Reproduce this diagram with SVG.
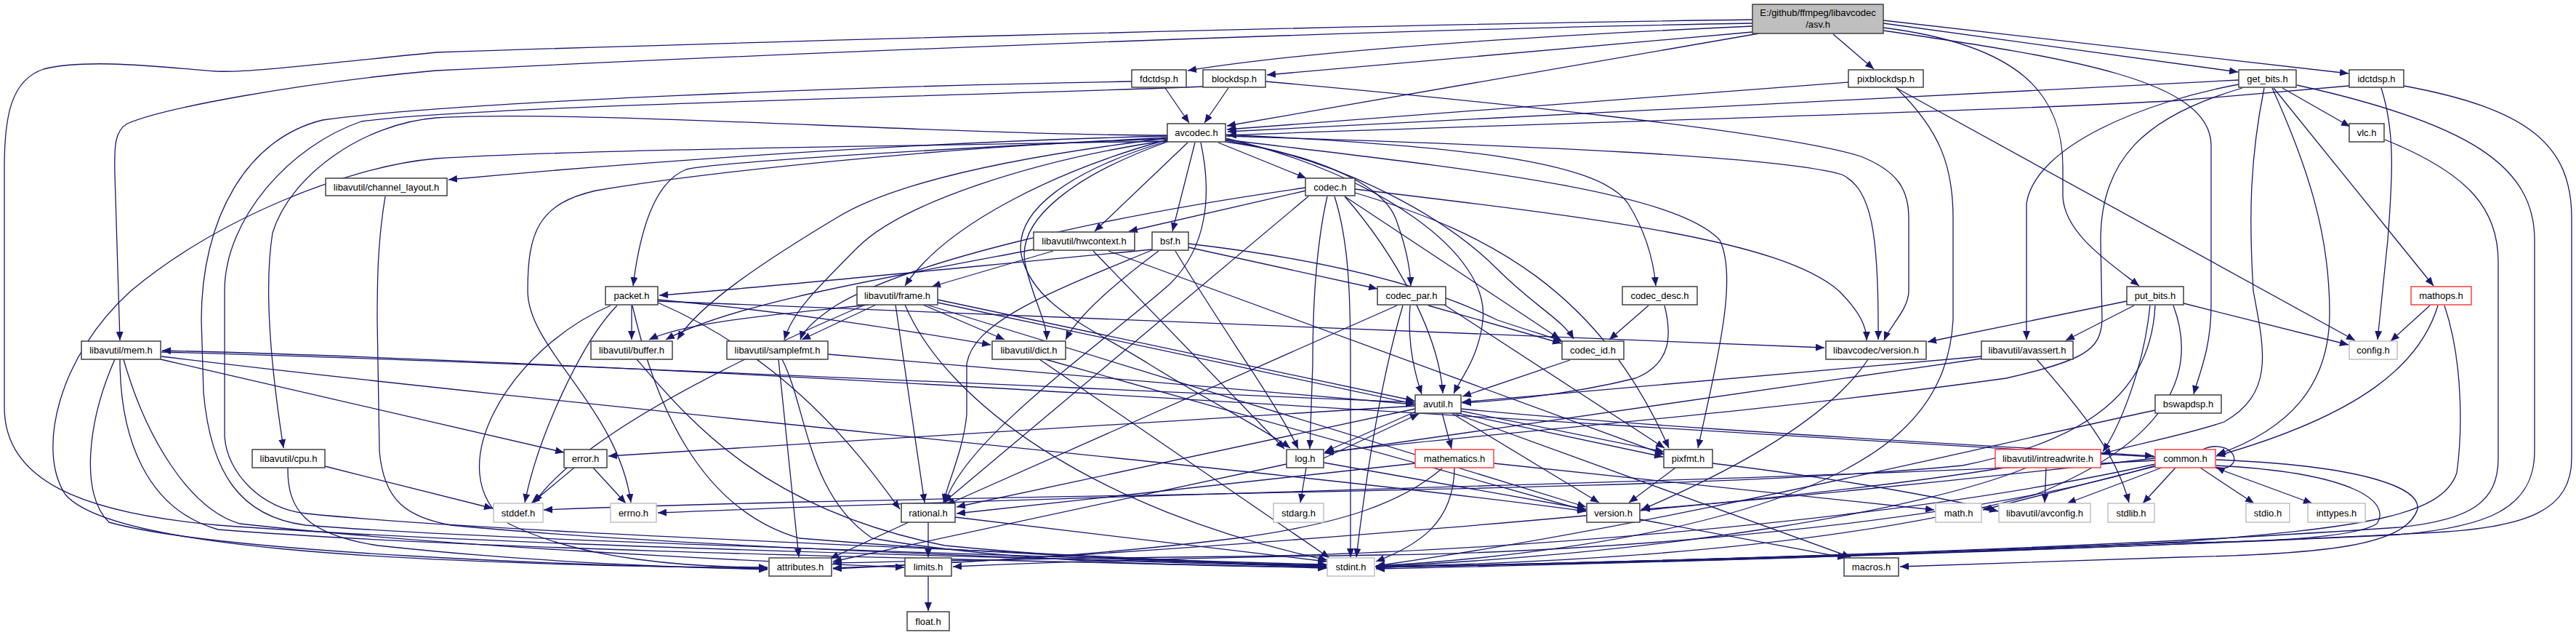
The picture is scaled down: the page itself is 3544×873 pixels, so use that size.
<svg xmlns="http://www.w3.org/2000/svg" width="3544" height="873" viewBox="0 0 3544 873">
<style>
.e{fill:none;stroke:#191970;stroke-width:1.3;marker-end:url(#ah)}
.n rect{fill:#fff;stroke:#404040;stroke-width:1.5}
.n.root rect{fill:#bfbfbf}
.n.red rect{stroke:#ff4040}
.n.sys rect{stroke:#c0c0c0}
text{font-family:"Liberation Sans",Arial,sans-serif;font-size:13px;text-anchor:middle;fill:#000}
</style>
<defs>
<marker id="ah" viewBox="0 0 12 10" refX="12" refY="5" markerWidth="12" markerHeight="10" markerUnits="userSpaceOnUse" orient="auto"><path d="M0,0 L12,5 L0,10 z" fill="#191970"/></marker>
</defs>
<rect x="0" y="0" width="3544" height="873" fill="#fff"/>
<g id="edges">
<path class="e" d="M2411,36 C2100,50 1800,70 1634,97"/>
<path class="e" d="M2411,44 L1743,103"/>
<path class="e" d="M2420,46 L1688,173"/>
<path class="e" d="M2522,47 L2578,95"/>
<path class="e" d="M2591,32 L3079,99"/>
<path class="e" d="M2591,28 L3231,101"/>
<path class="e" d="M2591,38 C2780,62 2838,130 2838,230 L2838,270 C2840,320 2900,360 2943,393"/>
<path class="e" d="M2591,42 C2850,80 3042,110 3042,200 L3042,420 C3042,480 3025,515 3018,542"/>
<path class="e" d="M2411,27 C1800,35 900,62 600,72 C420,90 340,100 298,98 C220,92 120,80 60,95 C15,110 6,160 6,230 L6,560 C6,660 110,705 300,722 C700,752 1500,770 1825,777"/>
<path class="e" d="M2411,32 C1800,42 900,82 600,97 C400,115 220,150 175,170 C158,180 157,200 158,240 L165,468"/>
<path class="e" d="M1603,121 L1636,169"/>
<path class="e" d="M1557,112 C1200,118 620,140 444,165 C340,190 277,300 277,440 L280,540 C290,650 330,710 420,722 C700,745 1500,765 1825,779"/>
<path class="e" d="M1690,121 L1657,169"/>
<path class="e" d="M1741,112 C2000,135 2450,180 2560,215 C2610,235 2626,260 2626,300 L2626,400 C2626,425 2600,448 2592,468"/>
<path class="e" d="M1655,119 C1400,130 650,145 497,167 C400,200 309,300 309,400 L309,600 C312,650 360,700 421,706 C700,735 1500,760 1826,781"/>
<path class="e" d="M2543,113 L1688,178"/>
<path class="e" d="M2609,121 L3240,468"/>
<path class="e" d="M2609,121 C2670,180 2687,230 2687,300 L2687,440 C2680,560 2600,640 2400,700 C2200,760 1950,775 1893,778"/>
<path class="e" d="M3080,110 L1689,181"/>
<path class="e" d="M3140,121 L3233,174"/>
<path class="e" d="M3128,121 L3348,393"/>
<path class="e" d="M3126,121 C3180,240 3205,330 3205,430 C3205,530 3150,590 3050,625"/>
<path class="e" d="M3115,121 C3095,220 3094,300 3100,400 C3115,480 3130,540 3060,580 C3000,600 2930,612 2892,624"/>
<path class="e" d="M3080,116 C2950,140 2800,200 2788,280 L2788,467"/>
<path class="e" d="M3085,121 C2950,160 2890,220 2890,330 L2892,440 C2890,480 2870,495 2760,520 C2400,570 2000,600 1823,622"/>
<path class="e" d="M3160,117 C3400,170 3487,230 3487,330 L3487,620 C3487,700 3420,725 3300,735 C2800,760 2100,775 1893,780"/>
<path class="e" d="M3232,118 L3000,138 C2700,155 2100,170 1689,186"/>
<path class="e" d="M3276,121 C3295,180 3292,240 3285,330 L3271,467"/>
<path class="e" d="M3307,118 C3480,150 3538,200 3538,300 L3538,630 C3538,700 3480,725 3350,732 C2800,760 2100,778 1893,782"/>
<path class="e" d="M3281,192 C3400,240 3437,290 3437,360 L3437,630 C3437,690 3400,715 3300,725 C2800,760 2100,776 1893,780"/>
<path class="e" d="M1634,196 L1506,318"/>
<path class="e" d="M1644,196 L1613,318"/>
<path class="e" d="M1676,196 L1797,245"/>
<path class="e" d="M1606,192 C1450,235 1300,310 1245,393"/>
<path class="e" d="M1652,196 C1668,270 1660,340 1610,390 C1520,470 1330,600 1300,691"/>
<path class="e" d="M1606,193 C1420,220 1240,280 1180,340 C1120,400 1090,430 1079,467"/>
<path class="e" d="M1606,190 C1400,215 1230,250 1150,300 C1050,360 960,420 932,467"/>
<path class="e" d="M1606,195 C1480,240 1400,300 1410,360 C1420,410 1440,440 1440,467"/>
<path class="e" d="M1606,194 C1470,235 1395,290 1405,350 C1420,420 1500,450 1580,500 C1660,550 1740,590 1775,616"/>
<path class="e" d="M1686,190 C1900,240 2050,350 2040,440 C2035,490 2010,520 2000,541"/>
<path class="e" d="M1686,192 C2000,230 2300,260 2366,330 C2390,380 2366,480 2336,616"/>
<path class="e" d="M1686,193 C1850,220 1990,300 2060,370 C2110,420 2150,440 2165,466"/>
<path class="e" d="M1686,185 C2000,200 2200,220 2240,280 C2265,320 2275,360 2278,393"/>
<path class="e" d="M1686,195 C1800,210 1900,250 1920,300 C1935,340 1940,370 1941,393"/>
<path class="e" d="M1606,189 C1400,200 1000,220 944,233 C900,250 880,320 871,393"/>
<path class="e" d="M1686,187 C2100,200 2450,215 2534,240 C2575,260 2585,320 2584,467"/>
<path class="e" d="M1606,187 C1200,197 800,230 617,247"/>
<path class="e" d="M1606,186 C1300,186 800,150 600,162 C500,170 400,240 375,320 C362,400 375,520 390,616"/>
<path class="e" d="M1606,194 C1300,200 800,205 600,218 C480,228 300,300 180,400 C80,490 50,620 90,680 C150,750 500,775 1056,781"/>
<path class="e" d="M1606,191 C1300,200 950,240 820,262 C740,280 726,320 726,400 C726,480 850,560 868,691"/>
<path class="e" d="M1797,262 L1553,318"/>
<path class="e" d="M1836,270 C1855,330 1858,400 1858,500 L1858,766"/>
<path class="e" d="M1826,270 C1810,340 1806,420 1806,500 L1802,617"/>
<path class="e" d="M1850,270 L2146,466"/>
<path class="e" d="M1864,260 C2200,300 2450,330 2530,400 C2560,430 2568,450 2568,468"/>
<path class="e" d="M1864,265 C2050,320 2200,400 2296,616"/>
<path class="e" d="M1850,270 C1920,350 1980,460 1985,541"/>
<path class="e" d="M1800,270 L1298,691"/>
<path class="e" d="M1796,258 C1500,300 1250,360 1150,420 C1120,440 1105,455 1101,467"/>
<path class="e" d="M1449,345 L1282,394"/>
<path class="e" d="M1422,343 C1200,385 1000,420 916,467"/>
<path class="e" d="M1504,345 L1767,617"/>
<path class="e" d="M1525,345 L2290,625"/>
<path class="e" d="M1585,343 C1300,370 1000,400 907,406"/>
<path class="e" d="M1594,345 C1520,400 1480,440 1466,467"/>
<path class="e" d="M1617,345 C1680,450 1760,560 1786,617"/>
<path class="e" d="M1587,343 C1450,400 1340,440 1330,500 L1330,570 C1325,620 1305,660 1298,691"/>
<path class="e" d="M1635,340 L1895,397"/>
<path class="e" d="M1635,335 C1850,360 1980,400 2060,440 C2120,460 2140,465 2150,470"/>
<path class="e" d="M1965,420 L2148,472"/>
<path class="e" d="M1922,420 L1302,694"/>
<path class="e" d="M1940,420 C1936,470 1945,510 1956,542"/>
<path class="e" d="M1930,420 C1900,520 1880,650 1866,766"/>
<path class="e" d="M1987,419 L2290,616"/>
<path class="e" d="M2268,420 L2214,467"/>
<path class="e" d="M2290,420 C2300,460 2300,500 2250,520 C2150,545 2050,552 2012,554"/>
<path class="e" d="M2160,495 L2012,545"/>
<path class="e" d="M869,420 L869,467"/>
<path class="e" d="M905,412 C1100,430 1250,455 1363,474"/>
<path class="e" d="M905,414 L2510,478"/>
<path class="e" d="M849,420 C800,470 740,600 722,691"/>
<path class="e" d="M870,420 C900,550 960,700 1100,740 C1400,765 1650,772 1825,776"/>
<path class="e" d="M840,420 C700,480 600,650 700,720 C800,770 950,780 1056,780"/>
<path class="e" d="M905,416 C1100,500 1200,650 1238,700"/>
<path class="e" d="M1195,419 C1100,430 950,440 893,467"/>
<path class="e" d="M1205,419 L1103,467"/>
<path class="e" d="M1270,419 L1382,467"/>
<path class="e" d="M1232,419 L1272,691"/>
<path class="e" d="M1290,412 L1946,551"/>
<path class="e" d="M1290,416 L2288,628"/>
<path class="e" d="M1275,419 L2182,697"/>
<path class="e" d="M1190,419 C1000,500 800,600 735,691"/>
<path class="e" d="M1245,419 C1300,550 1500,700 1826,770"/>
<path class="e" d="M876,494 C950,580 1050,700 1300,750 C1500,770 1700,775 1825,778"/>
<path class="e" d="M1071,494 L1099,766"/>
<path class="e" d="M1076,494 C1110,560 1110,680 1200,740 C1400,775 1650,778 1825,780"/>
<path class="e" d="M1139,487 L1946,556"/>
<path class="e" d="M1430,494 L1829,767"/>
<path class="e" d="M1438,494 L2182,702"/>
<path class="e" d="M530,270 C520,330 519,380 519,440 L522,620 C528,690 560,710 620,722 C900,750 1500,772 1825,779"/>
<path class="e" d="M221,494 L776,622"/>
<path class="e" d="M222,484 C800,500 1600,540 1946,553"/>
<path class="e" d="M222,490 C800,560 1800,650 2182,703"/>
<path class="e" d="M170,494 C200,600 260,700 330,720 C600,750 1000,770 1244,780"/>
<path class="e" d="M165,494 C165,600 200,700 300,728 C700,760 1500,772 1825,781"/>
<path class="e" d="M158,494 C120,580 110,680 150,718 C300,760 800,778 1056,782"/>
<path class="e" d="M447,641 L678,699"/>
<path class="e" d="M396,643 C395,700 420,735 520,750 C750,775 950,780 1056,783"/>
<path class="e" d="M790,643 L731,692"/>
<path class="e" d="M816,643 L861,692"/>
<path class="e" d="M1984,568 L1997,617"/>
<path class="e" d="M1947,566 L1823,621"/>
<path class="e" d="M1947,558 L837,627"/>
<path class="e" d="M1947,562 L1316,697"/>
<path class="e" d="M1997,568 L2200,691"/>
<path class="e" d="M2010,565 L2289,621"/>
<path class="e" d="M2010,562 C2300,590 2700,610 2963,627"/>
<path class="e" d="M2000,568 L2546,766"/>
<path class="e" d="M1797,643 L1789,691"/>
<path class="e" d="M1821,630 L1952,569"/>
<path class="e" d="M1770,638 L1146,772"/>
<path class="e" d="M1821,636 L2182,700"/>
<path class="e" d="M2001,643 C2000,720 1950,750 1893,772"/>
<path class="e" d="M1947,637 L1316,706"/>
<path class="e" d="M1984,644 C1930,690 1850,720 1700,740 C1500,765 1300,775 1146,781"/>
<path class="e" d="M2055,637 L2661,701"/>
<path class="e" d="M2305,643 L2241,691"/>
<path class="e" d="M2356,637 C2550,660 2700,690 2749,703"/>
<path class="e" d="M2256,714 L2540,767"/>
<path class="e" d="M1277,718 L1277,766"/>
<path class="e" d="M1250,718 L1142,768"/>
<path class="e" d="M1314,711 L1825,772"/>
<path class="e" d="M1277,792 L1277,840"/>
<path class="e" d="M2570,494 C2520,570 2400,640 2258,701"/>
<path class="e" d="M2802,494 C2860,560 2910,620 2929,691"/>
<path class="e" d="M2726,490 L2011,553"/>
<path class="e" d="M2726,493 L1822,623"/>
<path class="e" d="M2926,414 L2652,470"/>
<path class="e" d="M2936,420 L2842,468"/>
<path class="e" d="M3004,417 L3231,474"/>
<path class="e" d="M2958,420 C2950,500 2920,580 2893,621"/>
<path class="e" d="M2965,420 C2960,520 2900,600 2700,640 C2300,680 1300,678 748,701"/>
<path class="e" d="M2990,420 C3020,500 3000,600 2800,680 C2500,760 2100,775 1892,779"/>
<path class="e" d="M3343,420 L3289,469"/>
<path class="e" d="M3354,420 C3330,500 3250,570 3049,627"/>
<path class="e" d="M3363,420 C3390,500 3387,600 3380,650 C3360,710 3250,725 3000,745 C2500,770 2100,776 1893,780"/>
<path class="e" d="M2965,564 C2700,620 2300,720 1893,778"/>
<path class="e" d="M2815,643 L2813,691"/>
<path class="e" d="M2788,643 C2650,700 2300,760 1893,779"/>
<path class="e" d="M2758,643 C2400,700 1600,760 1146,782"/>
<path class="e" d="M3027,643 L3101,692"/>
<path class="e" d="M3045,642 L3181,692"/>
<path class="e" d="M2993,643 L2948,692"/>
<path class="e" d="M2974,643 L2844,692"/>
<path class="e" d="M2965,641 L2728,701"/>
<path class="e" d="M3049,632 C3250,640 3330,670 3326,700 C3310,750 3200,762 3000,766 L2614,779"/>
<path class="e" d="M3049,640 C3240,650 3290,690 3270,720 C3240,740 3100,745 3000,746 C2500,765 2100,776 1893,780"/>
<path class="e" d="M3030,618 C3060,605 3080,625 3072,637 C3065,645 3055,645 3049,642"/>
<path class="e" d="M2965,633 C2500,660 1500,680 905,705"/>
<path class="e" d="M2965,640 C2700,720 2200,760 1900,763 C1600,767 1400,775 1311,779"/>
<path class="e" d="M2965,638 C2600,720 2000,762 1700,765 C1400,768 1250,772 1146,774"/>
<path class="e" d="M2965,630 C2700,660 2400,690 2258,700"/>
<path class="e" d="M2965,628 C2400,600 1000,500 223,482"/>
</g>
<g id="n_asv" class="n root"><rect x="2411" y="6" width="180" height="40"/><text x="2501" y="22">E:/github/ffmpeg/libavcodec</text><text x="2501" y="38">/asv.h</text></g>
<g id="n_fdctdsp" class="n"><rect x="1557" y="96" width="75" height="24"/><text x="1594.5" y="113">fdctdsp.h</text></g>
<g id="n_blockdsp" class="n"><rect x="1655" y="96" width="86" height="24"/><text x="1698" y="113">blockdsp.h</text></g>
<g id="n_pixblockdsp" class="n"><rect x="2543" y="96" width="103" height="24"/><text x="2594.5" y="113">pixblockdsp.h</text></g>
<g id="n_get_bits" class="n"><rect x="3080" y="96" width="79" height="24"/><text x="3119.5" y="113">get_bits.h</text></g>
<g id="n_idctdsp" class="n"><rect x="3232" y="96" width="75" height="24"/><text x="3269.5" y="113">idctdsp.h</text></g>
<g id="n_avcodec" class="n"><rect x="1606" y="170" width="80" height="25"/><text x="1646" y="187">avcodec.h</text></g>
<g id="n_vlc" class="n"><rect x="3232" y="170" width="48" height="25"/><text x="3256" y="187">vlc.h</text></g>
<g id="n_channel_layout" class="n"><rect x="448" y="245" width="167" height="24"/><text x="531.5" y="262">libavutil/channel_layout.h</text></g>
<g id="n_codec" class="n"><rect x="1796" y="245" width="68" height="24"/><text x="1830" y="262">codec.h</text></g>
<g id="n_hwcontext" class="n"><rect x="1422" y="319" width="139" height="25"/><text x="1491.5" y="336">libavutil/hwcontext.h</text></g>
<g id="n_bsf" class="n"><rect x="1585" y="319" width="50" height="25"/><text x="1610" y="336">bsf.h</text></g>
<g id="n_packet" class="n"><rect x="833" y="394" width="72" height="25"/><text x="869" y="411">packet.h</text></g>
<g id="n_frame" class="n"><rect x="1179" y="394" width="111" height="25"/><text x="1234.5" y="411">libavutil/frame.h</text></g>
<g id="n_codec_par" class="n"><rect x="1895" y="394" width="94" height="25"/><text x="1942" y="411">codec_par.h</text></g>
<g id="n_codec_desc" class="n"><rect x="2232" y="394" width="103" height="25"/><text x="2283.5" y="411">codec_desc.h</text></g>
<g id="n_put_bits" class="n"><rect x="2926" y="394" width="78" height="25"/><text x="2965" y="411">put_bits.h</text></g>
<g id="n_mathops" class="n red"><rect x="3317" y="394" width="83" height="25"/><text x="3358.5" y="411">mathops.h</text></g>
<g id="n_mem" class="n"><rect x="112" y="469" width="109" height="25"/><text x="166.5" y="486">libavutil/mem.h</text></g>
<g id="n_buffer" class="n"><rect x="813" y="469" width="112" height="25"/><text x="869" y="486">libavutil/buffer.h</text></g>
<g id="n_samplefmt" class="n"><rect x="1000" y="469" width="139" height="25"/><text x="1069.5" y="486">libavutil/samplefmt.h</text></g>
<g id="n_dict" class="n"><rect x="1365" y="469" width="101" height="25"/><text x="1415.5" y="486">libavutil/dict.h</text></g>
<g id="n_codec_id" class="n"><rect x="2149" y="469" width="85" height="25"/><text x="2191.5" y="486">codec_id.h</text></g>
<g id="n_lavc_version" class="n"><rect x="2512" y="469" width="138" height="25"/><text x="2581" y="486">libavcodec/version.h</text></g>
<g id="n_avassert" class="n"><rect x="2726" y="469" width="126" height="25"/><text x="2789" y="486">libavutil/avassert.h</text></g>
<g id="n_config" class="n sys"><rect x="3232" y="469" width="66" height="25"/><text x="3265" y="486">config.h</text></g>
<g id="n_avutil" class="n"><rect x="1947" y="543" width="63" height="25"/><text x="1978.5" y="560">avutil.h</text></g>
<g id="n_bswapdsp" class="n"><rect x="2965" y="543" width="91" height="25"/><text x="3010.5" y="560">bswapdsp.h</text></g>
<g id="n_cpu" class="n"><rect x="347" y="618" width="100" height="25"/><text x="397" y="635">libavutil/cpu.h</text></g>
<g id="n_error" class="n"><rect x="776" y="618" width="59" height="25"/><text x="805.5" y="635">error.h</text></g>
<g id="n_log" class="n"><rect x="1770" y="618" width="51" height="25"/><text x="1795.5" y="635">log.h</text></g>
<g id="n_mathematics" class="n red"><rect x="1947" y="618" width="108" height="25"/><text x="2001" y="635">mathematics.h</text></g>
<g id="n_pixfmt" class="n"><rect x="2289" y="618" width="67" height="25"/><text x="2322.5" y="635">pixfmt.h</text></g>
<g id="n_intreadwrite" class="n red"><rect x="2745" y="618" width="145" height="25"/><text x="2817.5" y="635">libavutil/intreadwrite.h</text></g>
<g id="n_common" class="n red"><rect x="2965" y="618" width="83" height="25"/><text x="3006.5" y="635">common.h</text></g>
<g id="n_stddef" class="n sys"><rect x="679" y="692" width="68" height="26"/><text x="713" y="710">stddef.h</text></g>
<g id="n_errno" class="n sys"><rect x="840" y="692" width="63" height="26"/><text x="871.5" y="710">errno.h</text></g>
<g id="n_rational" class="n"><rect x="1240" y="692" width="74" height="26"/><text x="1277" y="710">rational.h</text></g>
<g id="n_stdarg" class="n sys"><rect x="1752" y="692" width="69" height="26"/><text x="1786.5" y="710">stdarg.h</text></g>
<g id="n_version" class="n"><rect x="2183" y="692" width="73" height="26"/><text x="2219.5" y="710">version.h</text></g>
<g id="n_math" class="n sys"><rect x="2663" y="692" width="63" height="26"/><text x="2694.5" y="710">math.h</text></g>
<g id="n_avconfig" class="n sys"><rect x="2750" y="692" width="126" height="26"/><text x="2813" y="710">libavutil/avconfig.h</text></g>
<g id="n_stdlib" class="n sys"><rect x="2900" y="692" width="64" height="26"/><text x="2932" y="710">stdlib.h</text></g>
<g id="n_stdio" class="n sys"><rect x="3090" y="692" width="60" height="26"/><text x="3120" y="710">stdio.h</text></g>
<g id="n_inttypes" class="n sys"><rect x="3175" y="692" width="79" height="26"/><text x="3214.5" y="710">inttypes.h</text></g>
<g id="n_attributes" class="n"><rect x="1058" y="767" width="86" height="25"/><text x="1101" y="784">attributes.h</text></g>
<g id="n_limits" class="n"><rect x="1245" y="767" width="64" height="25"/><text x="1277" y="784">limits.h</text></g>
<g id="n_stdint" class="n sys"><rect x="1826" y="767" width="65" height="25"/><text x="1858.5" y="784">stdint.h</text></g>
<g id="n_macros" class="n"><rect x="2537" y="767" width="75" height="25"/><text x="2574.5" y="784">macros.h</text></g>
<g id="n_float" class="n"><rect x="1248" y="841" width="58" height="26"/><text x="1277" y="859">float.h</text></g>
</svg>
